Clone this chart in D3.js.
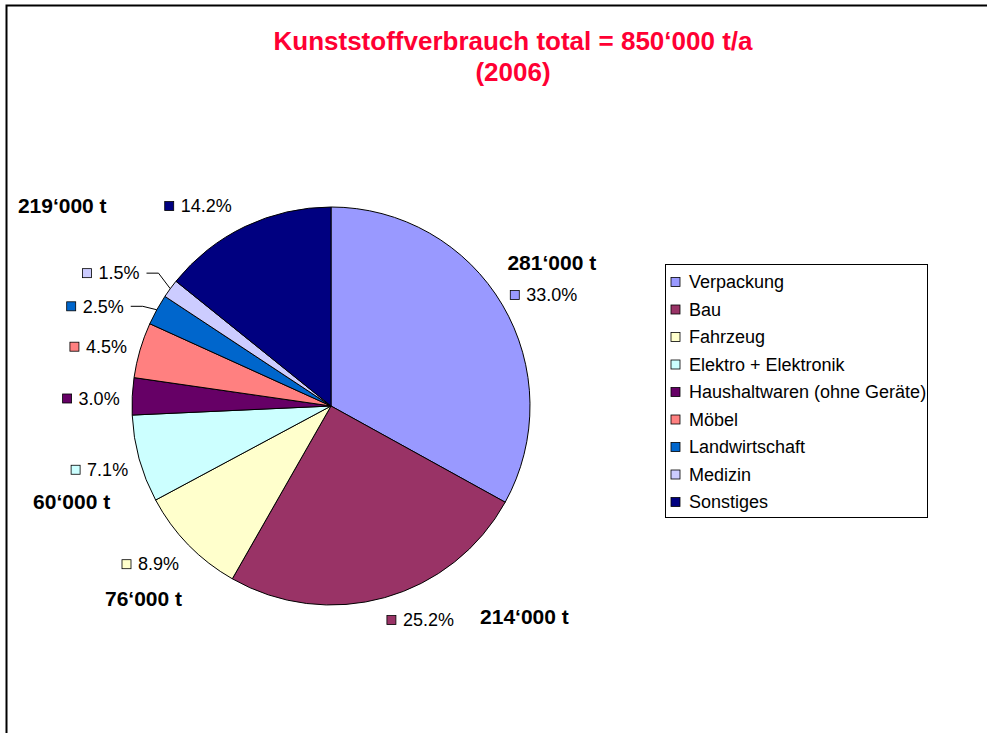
<!DOCTYPE html>
<html>
<head>
<meta charset="utf-8">
<script src="https://cdn.jsdelivr.net/npm/d3@7"></script>
<style>
  body { margin: 0; background: #fff; }
  text { font-family: "Liberation Sans", Arial, sans-serif; }
</style>
</head>
<body>
<div id="chart"></div>
<script>
// Data
const categories = ["Verpackung", "Bau", "Fahrzeug", "Elektro + Elektronik",
    "Haushaltwaren (ohne Geräte)", "Möbel", "Landwirtschaft", "Medizin", "Sonstiges"];
const shares = [33.0, 25.2, 8.9, 7.1, 3.0, 4.5, 2.5, 1.5, 14.2];
const colors = ["#9999ff", "#993366", "#ffffcc", "#ccffff", "#660066",
    "#ff8080", "#0066cc", "#ccccff", "#000080"];
const titleLines = ["Kunststoffverbrauch total = 850‘000 t/a", "(2006)"];
// tonnage annotations: which slice they sit next to
const tonnageText = ["281‘000 t", "214‘000 t", "76‘000 t", "60‘000 t", "219‘000 t"];
const tonnageSlice = [0, 1, 2, 3, 8];

// Layout
const width = 987;
const height = 733;
const cx = 331, cy = 406, radius = 199;
const labelRadius = 240;
// small nudges (degrees) for crowded labels, and which ones get leader lines
const angleNudge = [3, -7, 3, 0, -1, -2, -6, -5, -8];
const radiusNudge = [0, -8, 0, 0, 0, 0, 16, 17, 0];
const leader = [false, false, false, false, false, false, true, true, false];
// offsets of the bold tonnage texts from their percent label
const tonnageOffset = [[8, -32], [104, -3], [-7, 34], [-28, 32], [-136, 0]];

const svg = d3.select("#chart")
    .append("svg")
    .attr("width", width)
    .attr("height", height);

// outer frame
svg.append("rect")
    .attr("x", 6.5).attr("y", 5.5)
    .attr("width", 1000).attr("height", 800)
    .attr("fill", "none")
    .attr("stroke", "#000")
    .attr("stroke-width", 2);

// title
svg.append("text")
    .attr("x", 513).attr("y", 50)
    .attr("text-anchor", "middle")
    .attr("font-size", 26).attr("font-weight", "bold")
    .attr("fill", "#ff0033")
    .selectAll("tspan")
    .data(titleLines)
    .join("tspan")
    .attr("x", 513)
    .attr("dy", (d, i) => i === 0 ? 0 : 31)
    .text(d => d);

const pie = d3.pie().sort(null).value(d => d)
    .startAngle(0).endAngle(2 * Math.PI);
const arcs = pie(shares);
const arc = d3.arc().innerRadius(0).outerRadius(radius);

const g = svg.append("g").attr("transform", `translate(${cx},${cy})`);

g.selectAll("path")
    .data(arcs)
    .join("path")
    .attr("d", arc)
    .attr("fill", (d, i) => colors[i])
    .attr("stroke", "#000")
    .attr("stroke-width", 1);

const pct = d3.format(".1f");
const midAngle = d => (d.startAngle + d.endAngle) / 2;

// percent labels with swatch
const labelPos = arcs.map((d, i) => {
    const a = midAngle(d) + angleNudge[i] * Math.PI / 180;
    const r = labelRadius + radiusNudge[i];
    return [Math.sin(a) * r, -Math.cos(a) * r];
});

const labels = g.selectAll("g.lbl")
    .data(arcs)
    .join("g")
    .attr("class", "lbl");

labels.append("text")
    .attr("font-size", 18)
    .attr("fill", "#000")
    .attr("dy", "0.35em")
    .text(d => pct(d.data) + "%");

labels.each(function (d, i) {
    const sel = d3.select(this);
    const tw = sel.select("text").node().getComputedTextLength();
    const total = 10 + 6 + tw;
    const [x, y] = labelPos[i];
    const x0 = x - total / 2;
    sel.append("rect")
        .attr("x", x0).attr("y", y - 4.5)
        .attr("width", 9).attr("height", 9)
        .attr("fill", colors[i])
        .attr("stroke", "#000")
        .attr("stroke-width", 0.8);
    sel.select("text").attr("x", x0 + 16).attr("y", y);
    if (leader[i]) {
        const a = midAngle(d);
        const ex = Math.sin(a) * radius, ey = -Math.cos(a) * radius;
        const sx = x0 + 16 + tw + 7;
        g.append("polyline")
            .attr("points", `${sx},${y} ${sx + 12},${y} ${ex},${ey}`)
            .attr("fill", "none")
            .attr("stroke", "#000")
            .attr("stroke-width", 1);
    }
});

// bold tonnage annotations
g.selectAll("text.ton")
    .data(tonnageText)
    .join("text")
    .attr("class", "ton")
    .attr("x", (d, i) => labelPos[tonnageSlice[i]][0] + tonnageOffset[i][0])
    .attr("y", (d, i) => labelPos[tonnageSlice[i]][1] + tonnageOffset[i][1])
    .attr("dy", "0.35em")
    .attr("text-anchor", "middle")
    .attr("font-size", 21)
    .attr("font-weight", "bold")
    .attr("fill", "#000")
    .text(d => d);

// legend
const legend = svg.append("g").attr("transform", "translate(665,264)");
legend.append("rect")
    .attr("x", 0.5).attr("y", 0.5)
    .attr("width", 262).attr("height", 253)
    .attr("fill", "#fff")
    .attr("stroke", "#000");

const legendY = d3.scalePoint()
    .domain(categories)
    .range([18, 238]);

const items = legend.selectAll("g.item")
    .data(categories)
    .join("g")
    .attr("class", "item")
    .attr("transform", d => `translate(0,${legendY(d)})`);

items.append("rect")
    .attr("x", 6).attr("y", -4.5)
    .attr("width", 9).attr("height", 9)
    .attr("fill", (d, i) => colors[i])
    .attr("stroke", "#000")
    .attr("stroke-width", 0.8);

items.append("text")
    .attr("x", 24)
    .attr("dy", "0.35em")
    .attr("font-size", 18)
    .attr("fill", "#000")
    .text(d => d);
</script>
</body>
</html>
